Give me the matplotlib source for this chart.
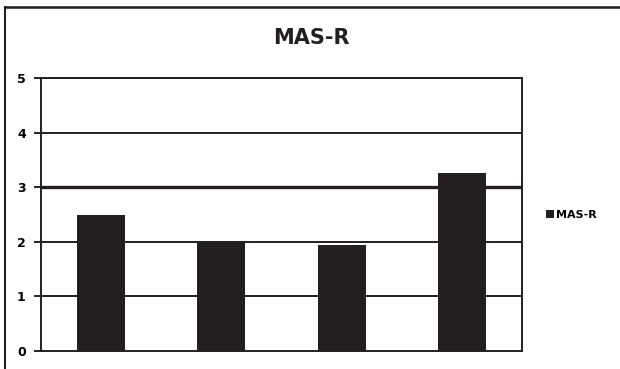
import matplotlib.pyplot as plt
from matplotlib.lines import Line2D

categories = ['A', 'B', 'C', 'D']
values = [2.5, 2.0, 1.95, 3.26]
yticks = [0, 1, 2, 3, 4, 5]

fig = plt.figure(figsize=(6.2, 3.69), dpi=100)
ax = fig.add_axes([41 / 620, 1 - 351 / 369, (522 - 41) / 620, (351 - 78) / 369])

x = range(len(categories))
ax.bar(x, values, width=0.4, color='#231f20', label='MAS-R', zorder=3)

ax.set_xlim(-0.5, len(categories) - 0.5)
ax.set_ylim(0, 5)
ax.set_yticks(yticks)
ax.set_yticklabels([str(t) for t in yticks], fontsize=9, fontweight='heavy')
ax.set_xticks([])
ax.tick_params(axis='y', direction='out', length=5, width=1.2, pad=6)

for t in yticks[1:]:
    ax.axhline(t, color='#231f20', lw=2.4 if t == 3 else 1.4, zorder=1)

for s in ax.spines.values():
    s.set_linewidth(1.4)
    s.set_color('#231f20')

fig.text(311 / 620, 1 - 38 / 369, 'MAS-R', ha='center', va='center',
         fontsize=15, fontweight='heavy', color='#231f20')

ax.legend(loc='center left', bbox_to_anchor=(1.03, 0.5), frameon=False,
          handlelength=0.7, handleheight=0.7, handletextpad=0.2,
          prop={'weight': 'bold', 'size': 8})

# outer frame: left and top edges only
fig.add_artist(Line2D([5 / 620, 5 / 620], [0, 1 - 7 / 369], color='#231f20', lw=1.5,
                      transform=fig.transFigure))
fig.add_artist(Line2D([5 / 620, 1], [1 - 7 / 369, 1 - 7 / 369], color='#231f20', lw=1.8,
                      transform=fig.transFigure))

fig.savefig('out.png', dpi=100)
